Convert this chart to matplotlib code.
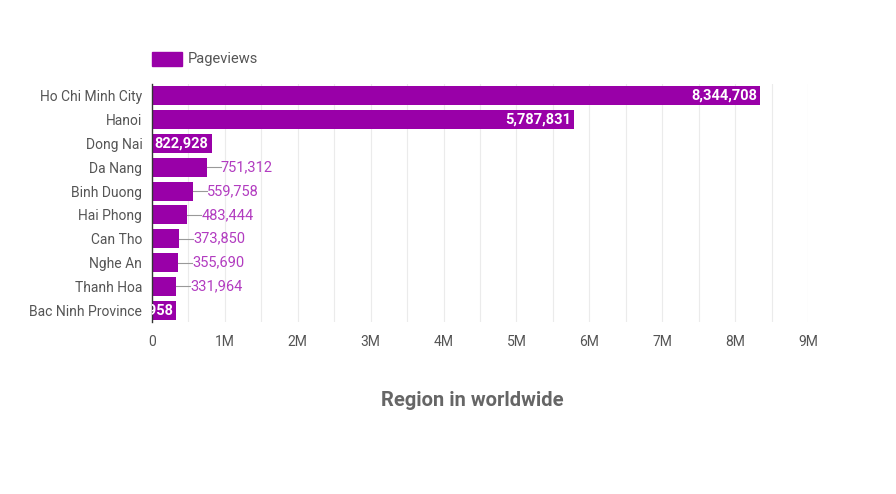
import matplotlib
matplotlib.use("Agg")
import matplotlib.pyplot as plt
from matplotlib.patches import Rectangle

plt.rcParams['font.family'] = ['Roboto', 'DejaVu Sans']

regions = ['Ho Chi Minh City', 'Hanoi', 'Dong Nai', 'Da Nang', 'Binh Duong',
           'Hai Phong', 'Can Tho', 'Nghe An', 'Thanh Hoa', 'Bac Ninh Province']
pageviews = [8344708, 5787831, 822928, 751312, 559758,
             483444, 373850, 355690, 331964, 325958]
tick_values = [0, 1e6, 2e6, 3e6, 4e6, 5e6, 6e6, 7e6, 8e6, 9e6]
tick_labels = ['0', '1M', '2M', '3M', '4M', '5M', '6M', '7M', '8M', '9M']

bar_color = '#9900a8'
label_color = '#b23cc0'

fig = plt.figure(figsize=(8.96, 4.94), dpi=100)
ax = fig.add_axes([152 / 896, 1 - 322 / 494, (808 - 152) / 896, (322 - 84) / 494])

# light grid every 0.5M
for g in range(1, 19):
    ax.axvline(g * 0.5e6, color='#ebebeb', lw=0.8, zorder=0)

y = list(range(len(regions)))
ax.barh(y, pageviews, height=0.8, color=bar_color, zorder=2)
ax.set_ylim(len(regions) - 0.5, -0.5)
ax.set_xlim(0, 9e6)

px = 9e6 / (808 - 152)  # data units per pixel
for i, v in enumerate(pageviews):
    txt = f'{v:,}'
    if i < 2:
        ax.text(v - 3 * px, i, txt, ha='right', va='center', color='white',
                fontsize=10.5, fontweight='bold', zorder=3)
    elif i == 2:
        ax.text(2 * px, i, txt, ha='left', va='center', color='white',
                fontsize=10.5, fontweight='bold', zorder=3)
    elif i == len(pageviews) - 1:
        ax.text(v - 2 * px, i, txt, ha='right', va='center', color='white',
                fontsize=10.5, fontweight='bold', zorder=3, clip_on=True)
    else:
        ax.plot([v, v + 14 * px], [i, i], color='#999999', lw=0.8, zorder=3)
        ax.text(v + 14 * px, i, txt, ha='left', va='center', color=label_color,
                fontsize=10.5, zorder=3)

ax.set_yticks(y)
ax.set_yticklabels(regions, fontsize=10, color='#555555')
ax.set_xticks(tick_values)
ax.set_xticklabels(tick_labels, fontsize=10, color='#555555')
ax.tick_params(axis='y', length=0, pad=7)
ax.tick_params(axis='x', length=0, pad=9)
for s in ['top', 'right', 'bottom']:
    ax.spines[s].set_visible(False)
ax.spines['left'].set_color('#333333')
ax.spines['left'].set_linewidth(1)

# legend
fig.patches.append(Rectangle((152 / 896, 1 - 66 / 494), 30 / 896, 14 / 494,
                             transform=fig.transFigure, color=bar_color))
fig.text(188 / 896, 1 - 59 / 494, 'Pageviews', fontsize=10.5, color='#555555',
         va='center', ha='left')

fig.text(472 / 896, 1 - 400 / 494, 'Region in worldwide', fontsize=14.5,
         fontweight='bold', color='#666666', ha='center', va='center')

fig.savefig('out.png', dpi=100, facecolor='white')
